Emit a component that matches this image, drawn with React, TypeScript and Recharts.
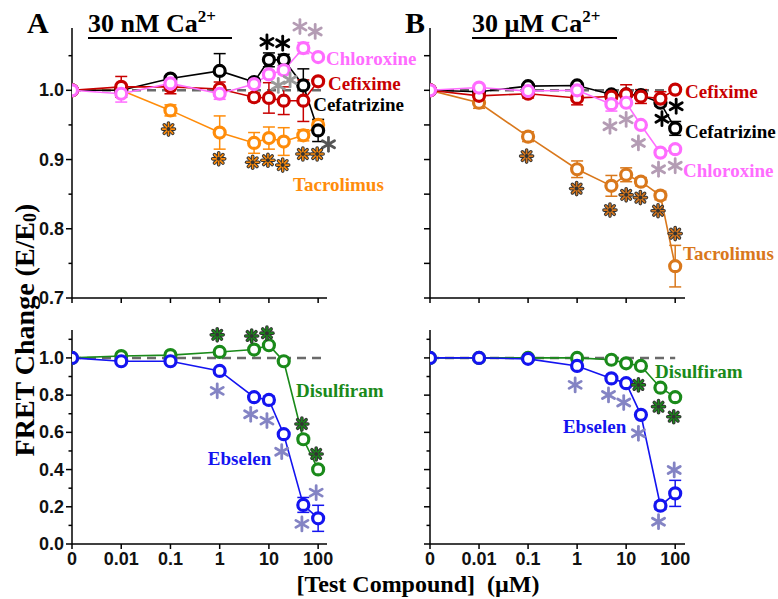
import React from "react";
import {
  LineChart,
  Line,
  XAxis,
  YAxis,
  ErrorBar,
  ReferenceLine,
  ReferenceDot,
} from "recharts";

const SANS = "'Liberation Sans', Arial, sans-serif";
const SERIF = "'Liberation Serif', 'Times New Roman', serif";

// concentrations in µM, drawn on a broken log axis (0, 0.01 ... 100)
const concentrations = [0, 0.01, 0.1, 1, 5, 10, 20, 50, 100];
const xTickLabels = ["0", "0.01", "0.1", "1", "10", "100"];
const xTicks = [0, 1, 2, 3, 4, 5];
const topYTicks = [0.7, 0.75, 0.8, 0.85, 0.9, 0.95, 1.0, 1.05];
const bottomYTicks = [0, 0.1, 0.2, 0.3, 0.4, 0.5, 0.6, 0.7, 0.8, 0.9, 1.0, 1.1];

// A: 30 nM Ca2+
const tacrolimusA = [1.0, 1.0, 0.971, 0.939, 0.924, 0.931, 0.926, 0.935, 0.95];
const tacrolimusAErr = [0, 0.005, 0.008, 0.024, 0.015, 0.016, 0.02, 0.008, 0.006];
const cefatrizineA = [1.0, 1.0, 1.017, 1.028, 1.012, 1.044, 1.044, 1.007, 0.942];
const cefatrizineAErr = [0, 0.004, 0.004, 0.025, 0.005, 0.01, 0.008, 0.024, 0.016];
const cefiximeA = [1.0, 1.005, 1.005, 1.002, 0.99, 0.989, 0.985, 0.985, 1.013];
const cefiximeAErr = [0, 0.015, 0.01, 0.01, 0.006, 0.022, 0.02, 0.03, 0.004];
const chloroxineA = [1.0, 0.995, 1.01, 0.995, 1.009, 1.023, 1.029, 1.061, 1.048];
const chloroxineAErr = [0, 0.012, 0.005, 0.008, 0.004, 0.005, 0.006, 0.008, 0.004];

// B: 30 µM Ca2+
const tacrolimusB = [1.0, 0.982, 0.933, 0.886, 0.862, 0.878, 0.868, 0.848, 0.746];
const tacrolimusBErr = [0, 0.008, 0.007, 0.012, 0.015, 0.01, 0.006, 0.006, 0.03];
const cefatrizineB = [1.0, 0.998, 1.006, 1.007, 0.994, 0.994, 0.993, 0.982, 0.945];
const cefatrizineBErr = [0, 0.003, 0.003, 0.003, 0.003, 0.003, 0.004, 0.005, 0.01];
const cefiximeB = [1.0, 0.992, 0.995, 0.989, 0.991, 0.994, 0.991, 0.988, 1.001];
const cefiximeBErr = [0, 0.004, 0.006, 0.01, 0.004, 0.014, 0.01, 0.01, 0.003];
const chloroxineB = [1.0, 1.004, 0.999, 1.0, 0.98, 0.982, 0.95, 0.91, 0.915];
const chloroxineBErr = [0, 0.003, 0.003, 0.003, 0.01, 0.004, 0.004, 0.004, 0.005];

const disulfiramA = [1.0, 1.01, 1.015, 1.032, 1.045, 1.068, 0.982, 0.563, 0.401];
const disulfiramAErr = [0, 0.005, 0.005, 0.005, 0.005, 0.005, 0.005, 0.02, 0.01];
const ebselenA = [1.0, 0.982, 0.982, 0.93, 0.789, 0.774, 0.59, 0.21, 0.138];
const ebselenAErr = [0, 0.005, 0.005, 0.005, 0.01, 0.02, 0.01, 0.04, 0.07];
const disulfiramB = [1.0, 1.0, 1.0, 1.0, 0.99, 0.971, 0.957, 0.84, 0.789];
const disulfiramBErr = [0, 0.003, 0.003, 0.003, 0.005, 0.006, 0.006, 0.008, 0.008];
const ebselenB = [1.0, 1.0, 0.995, 0.957, 0.89, 0.864, 0.694, 0.206, 0.272];
const ebselenBErr = [0, 0.005, 0.005, 0.005, 0.005, 0.01, 0.01, 0.02, 0.07];

// significance marks [axis position, value]
const starsTopA = {
  black: [[3.96, 1.07], [4.28, 1.068]],
  pinkGray: [[4.63, 1.092], [4.94, 1.085]],
  gray: [[4.19, 1.007], [4.43, 1.015]],
  darkGray: [[5.21, 0.922]],
  orange: [[1.96, 0.944], [2.98, 0.901], [3.67, 0.896], [3.98, 0.899], [4.28, 0.892], [4.69, 0.908], [4.98, 0.908]],
};
const starsTopB = {
  pinkGray: [[3.67, 0.948], [4.0, 0.958], [4.25, 0.924], [4.66, 0.886], [5.0, 0.891]],
  black: [[4.73, 0.959], [5.02, 0.977]],
  orange: [[1.97, 0.905], [2.99, 0.858], [3.67, 0.827], [4.0, 0.849], [4.29, 0.845], [4.65, 0.826], [5.0, 0.793]],
};
const starsBottomA = {
  green: [[2.95, 1.124], [3.65, 1.118], [3.96, 1.133], [4.67, 0.645], [4.96, 0.484]],
  blue: [[2.95, 0.823], [3.63, 0.697], [3.96, 0.663], [4.26, 0.496], [4.67, 0.108], [4.96, 0.276]],
};
const starsBottomB = {
  green: [[4.25, 0.855], [4.66, 0.738], [4.97, 0.684]],
  blue: [[2.96, 0.855], [3.64, 0.801], [3.95, 0.76], [4.25, 0.595], [4.66, 0.12], [4.98, 0.398]],
};

const C = {
  orangeA: "#ff8c0a",
  orangeB: "#d9781c",
  red: "#c80000",
  pink: "#ff6cff",
  black: "#000",
  green: "#1a8a1a",
  blue: "#1414f0",
  pinkGray: "#b49cb4",
  gray: "#9a9a9a",
  darkGray: "#555",
  blueGray: "#8484c4",
};

const logPos = (c: number) => (c === 0 ? 0 : Math.log10(c) + 3);

const rows = (values: number[], errors: number[]) =>
  concentrations.map((c, i) => ({ x: logPos(c), y: values[i], e: errors[i] }));

function Star({ cx, cy, color, outlined }: any) {
  const angles = outlined ? [0, 45, 90, 135] : [90, 30, 150];
  const len = outlined ? 6 : 7;
  const segs = angles.map((a) => {
    const r = (a * Math.PI) / 180;
    return [cx + len * Math.cos(r), cy + len * Math.sin(r), cx - len * Math.cos(r), cy - len * Math.sin(r)];
  });
  if (outlined) {
    return (
      <g>
        {segs.map((s, i) => (
          <line key={"o" + i} x1={s[0]} y1={s[1]} x2={s[2]} y2={s[3]} stroke="#333" strokeWidth={3.6} strokeLinecap="round" />
        ))}
        {segs.map((s, i) => (
          <line key={"i" + i} x1={s[0]} y1={s[1]} x2={s[2]} y2={s[3]} stroke={color} strokeWidth={1.6} strokeLinecap="round" />
        ))}
        <circle cx={cx} cy={cy} r={2} fill="#333" />
      </g>
    );
  }
  return (
    <g>
      {segs.map((s, i) => (
        <line key={i} x1={s[0]} y1={s[1]} x2={s[2]} y2={s[3]} stroke={color} strokeWidth={2.8} strokeLinecap="round" />
      ))}
    </g>
  );
}

function Panel({ box, xMax, yDomain, yTicks, isMajor, fmt, showXLabels, showYLabels, series, stars, labels, refEnd }: any) {
  const [left, right, top, bottom] = box;
  const yTick = (p: any) => {
    const v = p.payload.value;
    const major = isMajor(v);
    const len = major ? 6 : 3.5;
    return (
      <g>
        <line x1={p.x} x2={p.x - len} y1={p.y} y2={p.y} stroke="#000" strokeWidth={1.5} />
        {major && showYLabels && (
          <text x={p.x - 8} y={p.y} textAnchor="end" dominantBaseline="central" fontFamily={SANS} fontWeight="bold" fontSize={18} fill="#111">
            {fmt(v)}
          </text>
        )}
      </g>
    );
  };
  const xTick = (p: any) => (
    <g>
      <line x1={p.x} x2={p.x} y1={p.y} y2={p.y + 5} stroke="#000" strokeWidth={1.5} />
      {showXLabels && (
        <text x={p.x} y={p.y + 15} textAnchor="middle" dominantBaseline="central" fontFamily={SANS} fontWeight="bold" fontSize={18} fill="#111">
          {xTickLabels[p.payload.value]}
        </text>
      )}
    </g>
  );
  return (
    <div style={{ position: "absolute", left: 0, top: 0 }}>
      <LineChart
        width={778}
        height={599}
        margin={{ top, right: 778 - right, bottom: 599 - bottom - 30, left: 0 }}
      >
        <XAxis
          type="number"
          dataKey="x"
          domain={[0, xMax]}
          ticks={xTicks}
          interval={0}
          allowDataOverflow
          height={30}
          tickSize={0}
          tickMargin={0}
          tickLine={false}
          axisLine={{ stroke: "#000", strokeWidth: 1.5 }}
          tick={xTick}
        />
        <YAxis
          type="number"
          domain={yDomain}
          ticks={yTicks}
          interval={0}
          allowDataOverflow
          width={left}
          tickSize={0}
          tickMargin={0}
          tickLine={false}
          axisLine={{ stroke: "#000", strokeWidth: 1.5 }}
          tick={yTick}
        />
        <ReferenceLine
          segment={[{ x: 0, y: 1 }, { x: refEnd, y: 1 }]}
          stroke="#6a6a6a"
          strokeWidth={2.5}
          strokeDasharray="9 6"
          ifOverflow="visible"
        />
        {series.map((s: any) => (
          <Line
            key={s.name}
            data={rows(s.values, s.errors)}
            dataKey="y"
            stroke={s.color}
            strokeWidth={1.6}
            dot={{ r: 5.5, stroke: s.color, strokeWidth: 3.2, fill: "#fff" }}
            isAnimationActive={false}
          >
            <ErrorBar dataKey="e" direction="y" width={6} stroke={s.color} strokeWidth={1.5} />
          </Line>
        ))}
        {stars.map((g: any, gi: number) =>
          g.points.map((pt: number[], i: number) => (
            <ReferenceDot
              key={gi + "-" + i}
              x={pt[0]}
              y={pt[1]}
              r={1}
              ifOverflow="visible"
              shape={(p: any) => <Star cx={p.cx} cy={p.cy} color={g.color} outlined={g.outlined} />}
            />
          ))
        )}
        {labels.map((l: any) => (
          <ReferenceDot
            key={l.text}
            x={l.x}
            y={l.y}
            r={1}
            ifOverflow="visible"
            shape={(p: any) => (
              <text x={p.cx} y={p.cy} fill={l.color} fontFamily={SERIF} fontWeight="bold" fontSize={19} dominantBaseline="central">
                {l.text}
              </text>
            )}
          />
        ))}
      </LineChart>
    </div>
  );
}

const topMajor = (v: number) => Math.round(v * 100) % 10 === 0;
const bottomMajor = (v: number) => Math.round(v * 10) % 2 === 0;
const fmt1 = (v: number) => v.toFixed(1);

export default function App() {
  return (
    <div style={{ position: "absolute", left: 0, top: 0, width: 778, height: 599, background: "#fff", overflow: "hidden" }}>
      <Panel
        box={[72, 327, 28, 298]}
        xMax={5.18}
        yDomain={[0.7, 1.09]}
        yTicks={topYTicks}
        isMajor={topMajor}
        fmt={fmt1}
        showXLabels={false}
        showYLabels
        refEnd={5.18}
        series={[
          { name: "Tacrolimus", values: tacrolimusA, errors: tacrolimusAErr, color: C.orangeA },
          { name: "Cefatrizine", values: cefatrizineA, errors: cefatrizineAErr, color: C.black },
          { name: "Cefixime", values: cefiximeA, errors: cefiximeAErr, color: C.red },
          { name: "Chloroxine", values: chloroxineA, errors: chloroxineAErr, color: C.pink },
        ]}
        stars={[
          { points: starsTopA.black, color: C.black },
          { points: starsTopA.pinkGray, color: C.pinkGray },
          { points: starsTopA.gray, color: C.gray },
          { points: starsTopA.darkGray, color: C.darkGray },
          { points: starsTopA.orange, color: C.orangeA, outlined: true },
        ]}
        labels={[
          { text: "Chloroxine", x: 5.16, y: 1.046, color: C.pink },
          { text: "Cefixime", x: 5.2, y: 1.01, color: C.red },
          { text: "Cefatrizine", x: 4.9, y: 0.979, color: C.black },
          { text: "Tacrolimus", x: 4.49, y: 0.864, color: C.orangeA },
        ]}
      />
      <Panel
        box={[430, 685, 28, 298]}
        xMax={5.2}
        yDomain={[0.7, 1.09]}
        yTicks={topYTicks}
        isMajor={() => true}
        fmt={fmt1}
        showXLabels={false}
        showYLabels={false}
        refEnd={5}
        series={[
          { name: "Tacrolimus", values: tacrolimusB, errors: tacrolimusBErr, color: C.orangeB },
          { name: "Cefatrizine", values: cefatrizineB, errors: cefatrizineBErr, color: C.black },
          { name: "Cefixime", values: cefiximeB, errors: cefiximeBErr, color: C.red },
          { name: "Chloroxine", values: chloroxineB, errors: chloroxineBErr, color: C.pink },
        ]}
        stars={[
          { points: starsTopB.pinkGray, color: C.pinkGray },
          { points: starsTopB.black, color: C.black },
          { points: starsTopB.orange, color: C.orangeB, outlined: true },
        ]}
        labels={[
          { text: "Cefixime", x: 5.2, y: 0.999, color: C.red },
          { text: "Cefatrizine", x: 5.2, y: 0.94, color: C.black },
          { text: "Chloroxine", x: 5.16, y: 0.884, color: C.pink },
          { text: "Tacrolimus", x: 5.16, y: 0.765, color: C.orangeB },
        ]}
      />
      <Panel
        box={[72, 327, 330, 544]}
        xMax={5.18}
        yDomain={[0, 1.15]}
        yTicks={bottomYTicks}
        isMajor={bottomMajor}
        fmt={fmt1}
        showXLabels
        showYLabels
        refEnd={5.18}
        series={[
          { name: "Disulfiram", values: disulfiramA, errors: disulfiramAErr, color: C.green },
          { name: "Ebselen", values: ebselenA, errors: ebselenAErr, color: C.blue },
        ]}
        stars={[
          { points: starsBottomA.green, color: C.green, outlined: true },
          { points: starsBottomA.blue, color: C.blueGray },
        ]}
        labels={[
          { text: "Disulfiram", x: 4.55, y: 0.823, color: C.green },
          { text: "Ebselen", x: 2.76, y: 0.457, color: C.blue },
        ]}
      />
      <Panel
        box={[430, 685, 330, 544]}
        xMax={5.2}
        yDomain={[0, 1.15]}
        yTicks={bottomYTicks}
        isMajor={bottomMajor}
        fmt={fmt1}
        showXLabels
        showYLabels={false}
        refEnd={5}
        series={[
          { name: "Disulfiram", values: disulfiramB, errors: disulfiramBErr, color: C.green },
          { name: "Ebselen", values: ebselenB, errors: ebselenBErr, color: C.blue },
        ]}
        stars={[
          { points: starsBottomB.green, color: C.green, outlined: true },
          { points: starsBottomB.blue, color: C.blueGray },
        ]}
        labels={[
          { text: "Disulfiram", x: 4.59, y: 0.925, color: C.green },
          { text: "Ebselen", x: 2.71, y: 0.629, color: C.blue },
        ]}
      />
      <svg width={778} height={599} style={{ position: "absolute", left: 0, top: 0, pointerEvents: "none" }}>
        <g fontFamily={SERIF} fontWeight="bold" fill="#000">
          <text x={27} y={33} fontSize={30}>A</text>
          <text x={88} y={32} fontSize={26}>
            30 nM Ca<tspan dy={-10} fontSize={17}>2+</tspan>
          </text>
          <line x1={88} x2={232} y1={38} y2={38} stroke="#000" strokeWidth={2.2} />
          <text x={405} y={33} fontSize={30}>B</text>
          <text x={472} y={32} fontSize={26}>
            30 µM Ca<tspan dy={-10} fontSize={17}>2+</tspan>
          </text>
          <line x1={472} x2={617} y1={38} y2={38} stroke="#000" strokeWidth={2.2} />
          <text x={24} y={330} fontSize={28} textAnchor="middle" dominantBaseline="central" transform="rotate(-90 24 330)">
            FRET Change (E/E<tspan dy={6} fontSize={18}>0</tspan><tspan dy={-6}>)</tspan>
          </text>
          <text x={418} y={592} fontSize={24} textAnchor="middle">
            [Test Compound]{"\u00a0\u00a0"}(µM)
          </text>
        </g>
      </svg>
    </div>
  );
}
